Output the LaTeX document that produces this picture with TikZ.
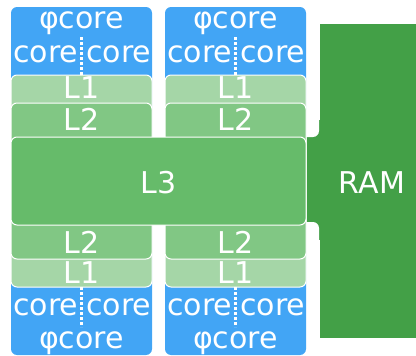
\documentclass[tikz,border=0pt]{standalone}
\usepackage{fontspec}
\setmainfont{DejaVu Sans}
\definecolor{coreblue}{HTML}{42A5F5}
\definecolor{lonegreen}{HTML}{A5D6A7}
\definecolor{ltwogreen}{HTML}{81C784}
\definecolor{lthreegreen}{HTML}{66BB6A}
\definecolor{ramgreen}{HTML}{43A047}

\begin{document}
\begin{tikzpicture}[x=1pt, y=-1pt,
		cache/.style={draw=white, line width=1pt, rounded corners=6pt},
		lbl/.style={text=white, font=\fontsize{30}{30}\selectfont, inner sep=0pt}]
			\useasboundingbox (0,0) rectangle (416,356);
			
			% RAM and its link to L3
			\fill[ramgreen] (320,24) rectangle (416,338);
			\fill[ramgreen] (296,120) rectangle (325,240);
			\fill[white, rounded corners=6pt] (296,-10) rectangle (319,137);
			\fill[white, rounded corners=6pt] (296,222) rectangle (319,366);
			
			\foreach \cx/\s in {11/a,165/b} {
				\fill[coreblue, rounded corners=6pt] (\cx,7) rectangle ++(141,348);
				\filldraw[fill=lonegreen, cache] (\cx,75) rectangle ++(141,212);
				\filldraw[fill=ltwogreen, cache] (\cx,103) rectangle ++(141,156);
				
				\node[lbl, anchor=base] (phitop\s) at (\cx+70.5,28) {φcore};
				\node[lbl, anchor=base east] (ctl\s) at (\cx+67.5,63) {core};
				\node[lbl, anchor=base west] (ctr\s) at (\cx+75,63) {core};
				\node[lbl, anchor=base] (lonetop\s) at (\cx+70.5,99) {L1};
				\node[lbl, anchor=base] (ltwotop\s) at (\cx+70.5,130) {L2};
				
				\node[lbl, anchor=base] (ltwobot\s) at (\cx+70.5,253) {L2};
				\node[lbl, anchor=base] (lonebot\s) at (\cx+70.5,283) {L1};
				\node[lbl, anchor=base east] (cbl\s) at (\cx+67.5,315) {core};
				\node[lbl, anchor=base west] (cbr\s) at (\cx+75,315) {core};
				\node[lbl, anchor=base] (phibot\s) at (\cx+70.5,348) {φcore};
				
				\coordinate (splittop\s) at (\cx+70.5,37);
				\coordinate (splittopend\s) at (\cx+70.5,75);
				\coordinate (splitbot\s) at (\cx+70.5,287);
				\coordinate (splitbotend\s) at (\cx+70.5,327);
				\draw[white, line width=2.5pt, dash pattern=on 3pt off 2pt] (splittop\s)--(splittopend\s)  (splitbot\s)--(splitbotend\s);
			}
			
			\filldraw[fill=lthreegreen, cache] (11,137) rectangle (306,225);
			\node[lbl, anchor=base] (lthree) at (158.5,193) {L3};
			\node[lbl, anchor=base] (ram) at (372,193) {RAM};
		\end{tikzpicture}
\end{document}
